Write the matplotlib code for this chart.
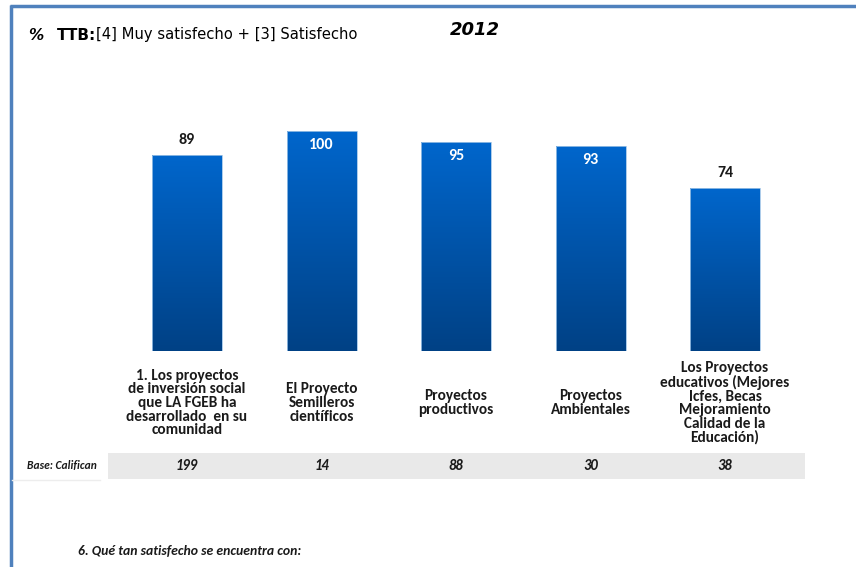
import matplotlib.pyplot as plt
import numpy as np
from matplotlib.colors import LinearSegmentedColormap

# Chart data
categories = [
    "1. Los proyectos\nde inversión social\nque LA FGEB ha\ndesarrollado  en su\ncomunidad",
    "El Proyecto\nSemilleros\ncientíficos",
    "Proyectos\nproductivos",
    "Proyectos\nAmbientales",
    "Los Proyectos\neducativos (Mejores\nIcfes, Becas\nMejoramiento\nCalidad de la\nEducación)",
]
ttb_values = [89, 100, 95, 93, 74]
base_counts = [199, 14, 88, 30, 38]

W, H = 856, 567
fig = plt.figure(figsize=(W / 100, H / 100), dpi=100)
fig.patch.set_facecolor("white")

# frame lines at top and left
frame = fig.add_axes([0, 0, 1, 1])
frame.set_xlim(0, W)
frame.set_ylim(H, 0)
frame.axis("off")
frame.plot([10, W], [6, 6], color="#4F81BD", lw=2.5, solid_capstyle="butt")
frame.plot([11.5, 11.5], [5, H], color="#4F81BD", lw=2.5, solid_capstyle="butt")

# base row band
frame.add_patch(plt.Rectangle((108, 453), 697, 26, color="#E9E9E9", lw=0))
frame.plot([12, 100], [479.5, 479.5], color="#EDEDED", lw=1)

# bar axes: x from 108 to 805 px, y from 351 px (zero) upward
x_left, x_right = 108, 805
y_zero, y_top = 351, 60
px_per_cat = 134.5
px_per_unit = 2.2
ax = fig.add_axes([x_left / W, (H - y_zero) / H,
                   (x_right - x_left) / W, (y_zero - y_top) / H])
ax.axis("off")

x = np.arange(len(categories))
bars = ax.bar(x, ttb_values, width=70 / px_per_cat, color="none",
              edgecolor="#9DC3E6", linewidth=0.6, zorder=3)

grad = LinearSegmentedColormap.from_list("bar", ["#004185", "#0066CC"])
ramp = np.linspace(0, 1, 256).reshape(-1, 1)
for b in bars:
    x0, w, h = b.get_x(), b.get_width(), b.get_height()
    im = ax.imshow(ramp, cmap=grad, aspect="auto", origin="lower",
                   extent=(x0, x0 + w, 0, h), zorder=2)
    im.set_clip_path(b)
ax.set_xlim((x_left - 187) / px_per_cat, (x_right - 187) / px_per_cat)
ax.set_ylim(0, (y_zero - y_top) / px_per_unit)

font = ["Carlito", "Liberation Sans Narrow", "Roboto Condensed", "DejaVu Sans"]
for xi, v in zip(x, ttb_values):
    if v >= 90:
        ax.annotate(str(v), (xi, v), xytext=(0, -10), textcoords="offset points",
                    ha="center", va="center", color="white",
                    fontweight="bold", fontsize=11.5, family=font)
    else:
        ax.annotate(str(v), (xi, v), xytext=(0, 11), textcoords="offset points",
                    ha="center", va="center", color="#1A1A1A",
                    fontweight="bold", fontsize=11.5, family=font)

# category labels and base counts below the bars
for xi, label, n in zip(x, categories, base_counts):
    ax.text(xi, (y_zero - 403) / px_per_unit, label, ha="center", va="center",
            fontsize=11, fontweight="bold", linespacing=0.97,
            family=font, color="#1A1A1A", clip_on=False)
    ax.text(xi, (y_zero - 466) / px_per_unit, str(n), ha="center", va="center",
            fontsize=10.5, fontweight="bold", style="italic",
            family=font, color="#1A1A1A", clip_on=False)

frame.text(62, 466, "Base: Califican", ha="center", va="center", fontsize=8.3,
           fontweight="bold", style="italic", family=font, color="#1A1A1A")

# header
frame.text(28, 35, "%", ha="left", va="center", fontsize=11,
           fontweight="bold", style="italic", family="DejaVu Sans")
frame.text(57, 35, "TTB:", ha="left", va="center", fontsize=11,
           fontweight="bold", family="DejaVu Sans")
frame.text(96, 35, "[4] Muy satisfecho + [3] Satisfecho", ha="left",
           va="center", fontsize=10.6, family="DejaVu Sans")
frame.text(475, 30, "2012", ha="center", va="center", fontsize=13,
           fontweight="bold", style="italic", family="DejaVu Sans")

frame.text(78, 551, "6. Qué tan satisfecho se encuentra con:", ha="left",
           va="center", fontsize=9.9, style="italic", fontweight="bold",
           family=font, color="#1A1A1A")

fig.savefig("out.png", dpi=100)
